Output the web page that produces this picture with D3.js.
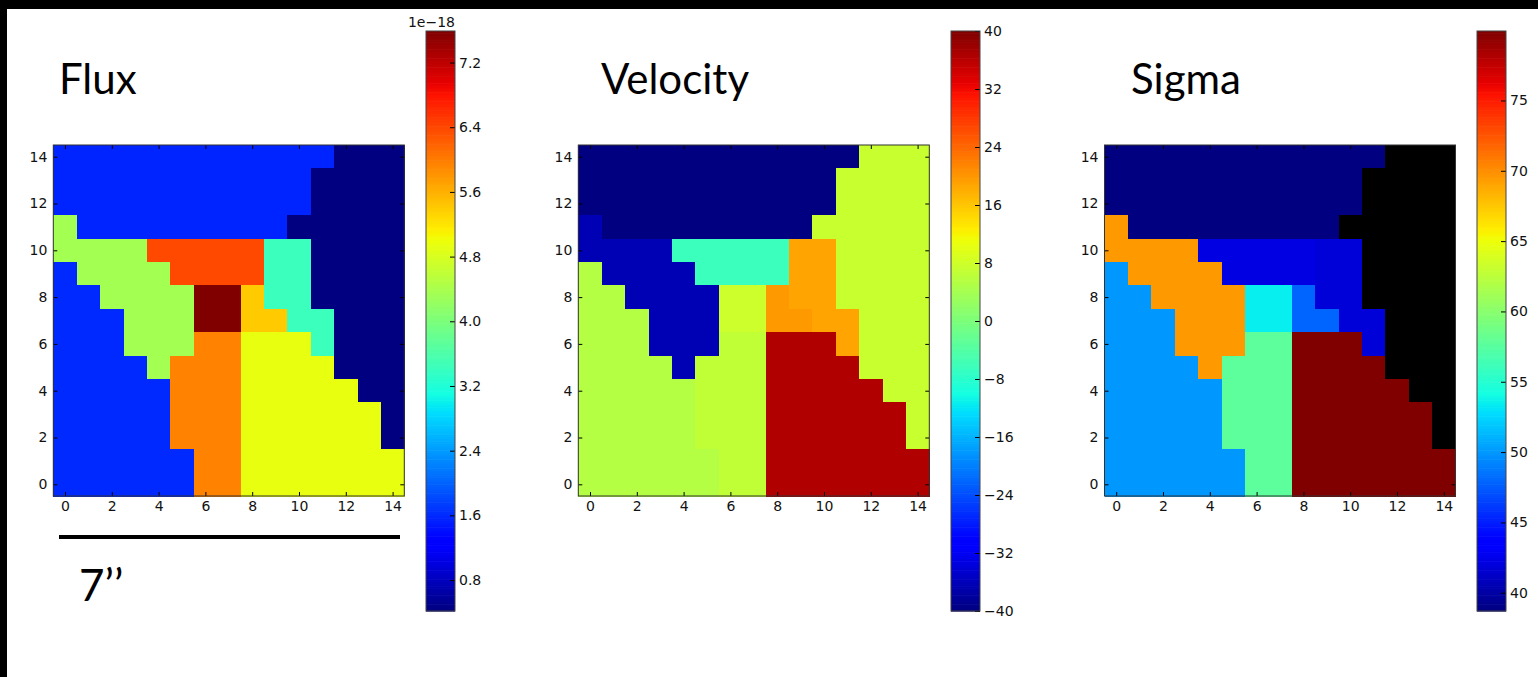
<!DOCTYPE html>
<html>
<head>
<meta charset="utf-8">
<script src="https://cdn.jsdelivr.net/npm/d3@7"></script>
<style>
  html, body { margin: 0; padding: 0; background: #fff; }
  svg { display: block; }
</style>
</head>
<body>
<svg id="chart" width="1538" height="677"></svg>
<script>
// ---------------- DATA ----------------
// Voronoi-style bin map, top row is y = 14, bottom row is y = 0; columns x = 0..14
const binMap = [
  "AAAAAAAAAAAABBB",
  "AAAAAAAAAAABBBB",
  "AAAAAAAAAAABBBB",
  "CAAAAAAAAABBBBB",
  "CCCCDDDDDEEBBBB",
  "JCCCCDDDDEEBBBB",
  "JJCCCCFFGEEBBBB",
  "JJJCCCFFGGEEBBB",
  "JJJCCCHHIIIEBBB",
  "JJJJCHHHIIIIBBB",
  "JJJJJHHHIIIIIBB",
  "JJJJJHHHIIIIIIB",
  "JJJJJHHHIIIIIIB",
  "JJJJJJHHIIIIIII",
  "JJJJJJHHIIIIIII"
];
const bins     = ["A",   "B",   "C",   "D",   "E",   "F",   "G",   "H",   "I",   "J"];
const flux     = [1.57,  0.417, 4.36,  6.39,  3.43,  7.59,  5.40,  5.95,  4.95,  1.60];  // x 1e-18
const velocity = [-40,   7.4,   -36.4, -6.4,  18.9,  7.8,   19.8,  6.7,   36.6,  5.5];
const sigma    = [38.7,  null,  69.55, 42.2,  41.9,  53.5,  47.9,  57.75, 79.94, 50.0];

const titles      = ["Flux", "Velocity", "Sigma"];
const fluxRange   = [0.417, 7.59];
const velRange    = [-40, 40];
const sigmaRange  = [38.7, 79.94];
const fluxTicks   = [0.8, 1.6, 2.4, 3.2, 4.0, 4.8, 5.6, 6.4, 7.2];
const velTicks    = [-40, -32, -24, -16, -8, 0, 8, 16, 24, 32, 40];
const sigmaTicks  = [40, 45, 50, 55, 60, 65, 70, 75];
const axisTicks   = [0, 2, 4, 6, 8, 10, 12, 14];
const fluxOffset  = "1e\u221218";
const scaleLabel  = "7\u2019\u2019";

// ---------------- JET COLORMAP ----------------
const jr = d3.scaleLinear().domain([0, 0.35, 0.66, 0.89, 1]).range([0, 0, 1, 1, 0.5]).clamp(true);
const jg = d3.scaleLinear().domain([0, 0.125, 0.375, 0.64, 0.91, 1]).range([0, 0, 1, 1, 0, 0]).clamp(true);
const jb = d3.scaleLinear().domain([0, 0.11, 0.34, 0.65, 1]).range([0.5, 1, 1, 0, 0]).clamp(true);
function jet(t) {
  return d3.rgb(Math.round(jr(t) * 255), Math.round(jg(t) * 255), Math.round(jb(t) * 255)).formatHex();
}

// ---------------- LAYOUT ----------------
const svg = d3.select("#chart");
const W = 1538, H = 677;
svg.append("rect").attr("x", 0).attr("y", 0).attr("width", W).attr("height", H).attr("fill", "#fff");

const plotTop = 145, plotSize = 351;
const cbTop = 31, cbBottom = 611, cbWidth = 29;
const tickFont = "DejaVu Sans, sans-serif";
const tickSize = "14px";
const titleFont = "Lato, 'Open Sans', sans-serif";

const panels = [
  { title: titles[0], values: flux,     range: fluxRange,  ticks: fluxTicks,  fmt: d3.format(".1f"), plotX: 53.3,   cbX: 426,   titleX: 59 },
  { title: titles[1], values: velocity, range: velRange,   ticks: velTicks,   fmt: d3.format("d"),   plotX: 578.3,  cbX: 951,   titleX: 601 },
  { title: titles[2], values: sigma,    range: sigmaRange, ticks: sigmaTicks, fmt: d3.format("d"),   plotX: 1104.5, cbX: 1477,  titleX: 1131 }
];

panels.forEach(p => {
  const g = svg.append("g");
  const x = d3.scaleLinear().domain([-0.5, 14.5]).range([p.plotX, p.plotX + plotSize]);
  const y = d3.scaleLinear().domain([-0.5, 14.5]).range([plotTop + plotSize, plotTop]);
  const norm = d3.scaleLinear().domain(p.range).range([0, 1]).clamp(true);
  const valueOf = {};
  bins.forEach((b, i) => valueOf[b] = p.values[i]);
  const color = v => (v === null || v === undefined) ? "#000000" : jet(norm(v));

  // cells
  const cells = [];
  binMap.forEach((row, i) => {
    const yy = binMap.length - 1 - i;
    row.split("").forEach((b, xx) => cells.push({ x: xx, y: yy, v: valueOf[b] }));
  });
  g.append("g").attr("shape-rendering", "crispEdges").selectAll("rect").data(cells).join("rect")
    .attr("x", d => x(d.x - 0.5))
    .attr("y", d => y(d.y + 0.5))
    .attr("width", d => x(d.x + 0.5) - x(d.x - 0.5) + 0.5)
    .attr("height", d => y(d.y - 0.5) - y(d.y + 0.5) + 0.5)
    .attr("fill", d => color(d.v));

  // axes (ticks pointing inward on all sides)
  const styleAxis = sel => {
    sel.select(".domain").remove();
    sel.selectAll("line").attr("stroke", "#000").attr("stroke-width", 1);
    sel.selectAll("text").attr("font-family", tickFont).attr("font-size", tickSize).attr("fill", "#111");
  };
  g.append("g").attr("transform", `translate(0,${plotTop + plotSize})`)
    .call(d3.axisBottom(x).tickValues(axisTicks).tickFormat(d3.format("d")).tickSizeInner(-4).tickSizeOuter(0).tickPadding(5))
    .call(styleAxis);
  g.append("g").attr("transform", `translate(0,${plotTop})`)
    .call(d3.axisTop(x).tickValues(axisTicks).tickFormat("").tickSizeInner(-4).tickSizeOuter(0))
    .call(styleAxis);
  g.append("g").attr("transform", `translate(${p.plotX},0)`)
    .call(d3.axisLeft(y).tickValues(axisTicks).tickFormat(d3.format("d")).tickSizeInner(-4).tickSizeOuter(0).tickPadding(6))
    .call(styleAxis);
  g.append("g").attr("transform", `translate(${p.plotX + plotSize},0)`)
    .call(d3.axisRight(y).tickValues(axisTicks).tickFormat("").tickSizeInner(-4).tickSizeOuter(0))
    .call(styleAxis);
  g.append("rect").attr("x", p.plotX).attr("y", plotTop).attr("width", plotSize).attr("height", plotSize)
    .attr("fill", "none").attr("stroke", "#333").attr("stroke-width", 1);

  // colorbar
  const cbScale = d3.scaleLinear().domain(p.range).range([cbBottom, cbTop]);
  const steps = d3.range(0, 256);
  const stepH = (cbBottom - cbTop) / 256;
  g.append("g").selectAll("rect").data(steps).join("rect")
    .attr("x", p.cbX)
    .attr("y", i => cbBottom - (i + 1) * stepH)
    .attr("width", cbWidth)
    .attr("height", stepH + 0.6)
    .attr("fill", i => jet((i + 0.5) / 256));
  g.append("g").attr("transform", `translate(${p.cbX + cbWidth},0)`)
    .call(d3.axisRight(cbScale).tickValues(p.ticks).tickFormat(p.fmt).tickSizeInner(-5).tickSizeOuter(0).tickPadding(4))
    .call(styleAxis);
  g.append("rect").attr("x", p.cbX).attr("y", cbTop).attr("width", cbWidth).attr("height", cbBottom - cbTop)
    .attr("fill", "none").attr("stroke", "#444").attr("stroke-width", 1);

  // title
  g.append("text").attr("x", p.titleX).attr("y", 94)
    .attr("font-family", titleFont).attr("font-size", "42px").attr("fill", "#000")
    .text(p.title);
});

// offset label on flux colorbar
svg.append("text").attr("x", panels[0].cbX + cbWidth).attr("y", 27)
  .attr("text-anchor", "end").attr("font-family", tickFont).attr("font-size", tickSize).attr("fill", "#111")
  .text(fluxOffset);

// scale bar
svg.append("line").attr("x1", 59).attr("x2", 400).attr("y1", 537).attr("y2", 537)
  .attr("stroke", "#000").attr("stroke-width", 4);
svg.append("text").attr("x", 79).attr("y", 601)
  .attr("font-family", titleFont).attr("font-size", "44px").attr("fill", "#000")
  .text(scaleLabel);

// black frame strips (top and left)
svg.append("rect").attr("x", 0).attr("y", 0).attr("width", W).attr("height", 9).attr("fill", "#000");
svg.append("rect").attr("x", 0).attr("y", 0).attr("width", 7).attr("height", H).attr("fill", "#000");
</script>
</body>
</html>
